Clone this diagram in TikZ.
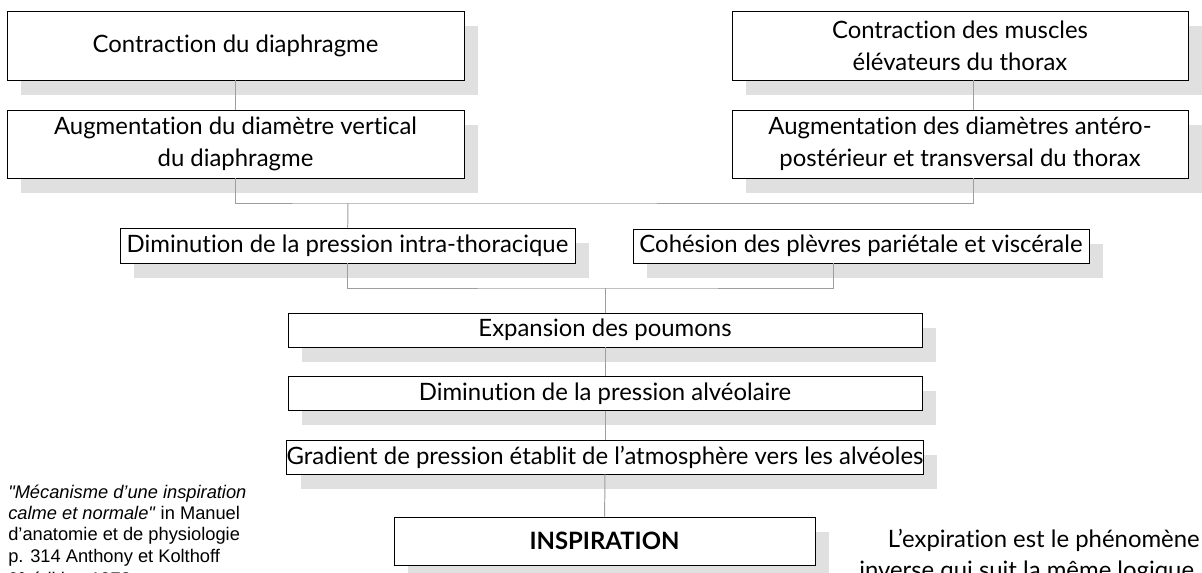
\documentclass[tikz,border=0pt]{standalone}
\usepackage{fontspec}
\setmainfont{Lato}[Ligatures=NoCommon]
\newfontfamily\notefont{Liberation Sans}
\usetikzlibrary{shadows,calc}

\begin{document}
\begin{tikzpicture}[x=0.025cm, y=-0.025cm,
    box/.style={draw=black, line width=0.6pt, fill=white, inner sep=0pt, align=center,
        font=\fontsize{17}{22.5}\selectfont,
        general shadow={fill=black!12, shadow xshift=0.35cm, shadow yshift=-0.37cm}},
    link/.style={draw=black!38, line width=0.7pt}]

    \clip (0,0) rectangle (1202,572);                   % crop like the scan

    % upper left and right chains
    \node [box, minimum width=11.425cm, minimum height=1.725cm] (cd) at (235.5,45.5)
        {Contraction du diaphragme};
    \node [box, minimum width=11.425cm, minimum height=1.7cm] (ad) at (235.5,144)
        {Augmentation du diamètre vertical\\du diaphragme};
    \node [box, minimum width=11.4cm, minimum height=1.725cm] (cm) at (960,45.5)
        {Contraction des muscles\\élévateurs du thorax};
    \node [box, minimum width=11.4cm, minimum height=1.7cm] (at) at (960,144)
        {Augmentation des diamètres antéro-\\postérieur et transversal du thorax};

    % middle row
    \node [box, minimum width=11.375cm, minimum height=0.875cm] (dp) at (347.5,245.5)
        {Diminution de la pression intra-thoracique};
    \node [box, minimum width=11.4cm, minimum height=0.85cm] (cp) at (861,246)
        {Cohésion des plèvres pariétale et viscérale};

    % central column
    \node [box, minimum width=15.85cm, minimum height=0.85cm] (ep) at (605,330)
        {Expansion des poumons};
    \node [box, minimum width=15.85cm, minimum height=0.85cm] (da) at (605,393.5)
        {Diminution de la pression alvéolaire};
    \node [box, minimum width=15.85cm, minimum height=0.85cm] (gp) at (605,457)
        {Gradient de pression établit de l’atmosphère vers les alvéoles};
    \node [box, minimum width=10.525cm, minimum height=1.2cm, font=\fontsize{17}{22.5}\selectfont\bfseries] (insp) at (604.5,541)
        {INSPIRATION};

    % connectors
    \coordinate (jtop) at (348,203);
    \coordinate (jmid) at (605,288);
    \coordinate (atr) at ($(at.south)+(13,0)$);
    \coordinate (cpl) at ($(cp.south)+(-28,0)$);

    \draw [link] (cd) -- (ad);
    \draw [link] ($(cm.south)+(13,0)$) -- ($(at.north)+(13,0)$);
    \draw [link] (ad.south) |- (jtop) -| (atr);         % join both chains
    \draw [link] (jtop) -- (dp);
    \draw [link] (dp.south) |- (jmid) -| (cpl);         % join middle row
    \draw [link] (jmid) -- (ep);
    \draw [link] (ep) -- (da);
    \draw [link] (da) -- (gp);
    \draw [link] (gp) -- (insp);

    % notes
    \node [anchor=north west, align=left, inner sep=0pt,
        font=\notefont\fontsize{13}{15}\selectfont] (src) at (8,485)
        {\textit{\textquotedbl Mécanisme d’une inspiration}\\\textit{calme et normale\textquotedbl} in Manuel\\d’anatomie et de physiologie\\p. 314 Anthony et Kolthoff\\[0.05cm]9\textsuperscript{e} édition 1978};
    \node [anchor=north east, align=right, inner sep=0pt,
        font=\fontsize{17}{22}\selectfont] (expi) at (1200,529)
        {L’expiration est le phénomène\\inverse qui suit la même logique.};

\end{tikzpicture}
\end{document}
